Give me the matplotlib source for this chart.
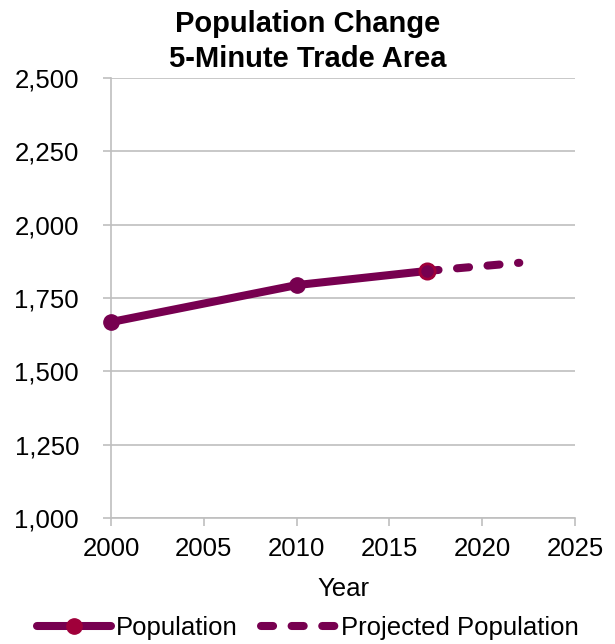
import matplotlib
matplotlib.use("Agg")
import matplotlib.pyplot as plt
from matplotlib.ticker import FuncFormatter
from matplotlib.lines import Line2D

plt.rcParams['font.family'] = ['Liberation Sans', 'DejaVu Sans']

years = [2000, 2010, 2017]
population = [1668, 1794, 1842]
proj_years = [2017, 2022]
proj_population = [1842, 1870]

x_ticks = [2000, 2005, 2010, 2015, 2020, 2025]
y_ticks = [1000, 1250, 1500, 1750, 2000, 2250, 2500]

purple = '#770050'
red = '#A0003A'
grid = '#BFBFBF'
dash = (0, (1.5, 2.3))
fs = 18.5

fig = plt.figure(figsize=(6.15, 6.44), dpi=100)
ax = fig.add_axes([111/615, 126/644, 464/615, 440/644])

ax.plot(proj_years, proj_population, color=purple, lw=5.8, ls=dash,
        dash_capstyle='round', solid_capstyle='round', zorder=3, clip_on=False)
ax.plot(years, population, color=purple, lw=5.8, solid_capstyle='round',
        marker='o', ms=11, mfc=purple, mec=purple, zorder=4, clip_on=False)
ax.plot(years[-1:], population[-1:], ls='none', marker='o', ms=11, mfc=purple,
        mec=red, mew=2, zorder=5, clip_on=False)

ax.set_xlim(2000, 2025)
ax.set_ylim(1000, 2500)
ax.set_xticks(x_ticks)
ax.set_yticks(y_ticks)
ax.yaxis.set_major_formatter(FuncFormatter(lambda v, p: f'{int(v):,}'))
ax.grid(axis='y', color=grid, lw=1.2)
ax.set_axisbelow(True)
for s in ['top', 'right']:
    ax.spines[s].set_visible(False)
for s in ['left', 'bottom']:
    ax.spines[s].set_color(grid)
    ax.spines[s].set_linewidth(1.2)
ax.tick_params(axis='both', colors=grid, length=6, width=1.2, labelsize=fs, labelcolor='black')
ax.tick_params(axis='y', pad=17)
ax.tick_params(axis='x', pad=8)
ax.set_xlabel('Year', fontsize=fs, labelpad=11)

fig.text(0.5, 1 - 10/644, 'Population Change\n5-Minute Trade Area', ha='center', va='top',
         fontsize=21, fontweight='bold', linespacing=1.3)

handles = [
    Line2D([], [], color=purple, lw=5.8, marker='o', ms=11, mfc=red, mec=red,
           solid_capstyle='round'),
    Line2D([], [], color=purple, lw=5.8, ls=dash, dash_capstyle='round'),
]
fig.legend(handles, ['Population', 'Projected Population'], loc='lower center',
           bbox_to_anchor=(0.5, -0.022), ncol=2, frameon=False, fontsize=fs,
           handlelength=2.9, handletextpad=0.2, columnspacing=0.9, borderpad=0.2)

fig.savefig('out.png', dpi=100)
